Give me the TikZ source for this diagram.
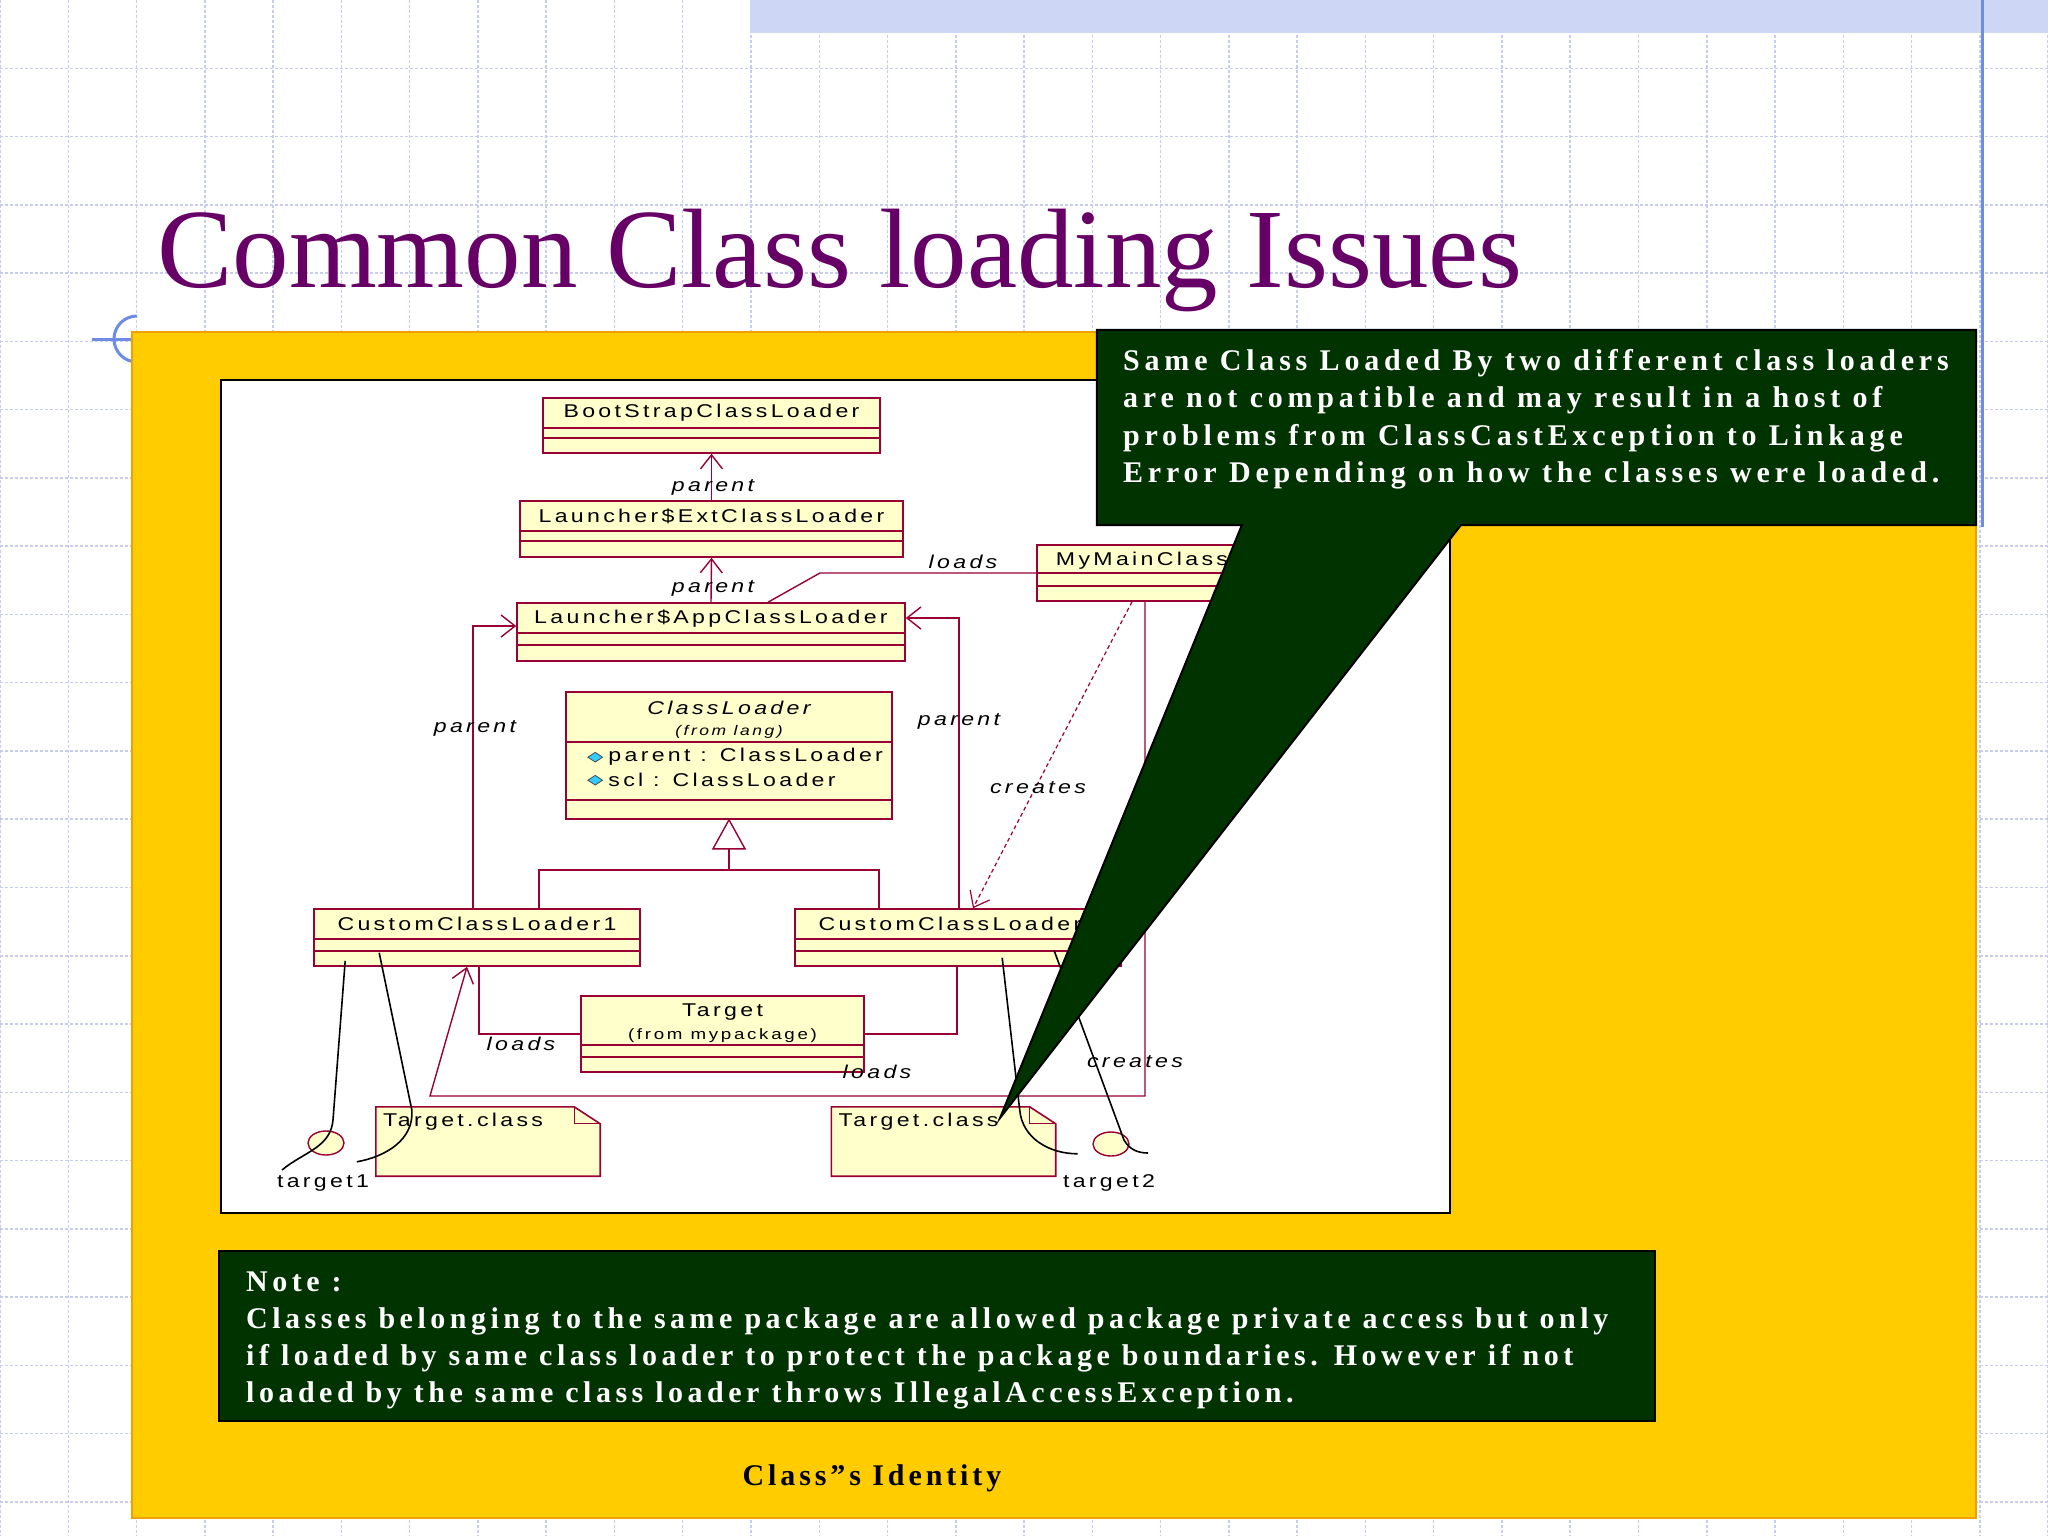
\documentclass[tikz,border=0pt]{standalone}
\usepackage{fontspec}
\setmainfont{Liberation Serif}
\newfontfamily\umlfont[FakeStretch=1.25,LetterSpace=18]{Liberation Sans}
\newfontfamily\slidefont[LetterSpace=13]{Liberation Serif}
\newfontfamily\calloutfont[LetterSpace=16]{Liberation Serif}
\newfontfamily\notefont[LetterSpace=15]{Liberation Serif}
\usepackage{tikz}
\usetikzlibrary{arrows.meta, calc, shapes.geometric}
\definecolor{titlepurple}{RGB}{102,0,102}
\definecolor{slideyellow}{RGB}{255,204,0}
\definecolor{slideedge}{RGB}{240,160,0}
\definecolor{notegreen}{RGB}{0,51,0}
\definecolor{gridblue}{RGB}{200,205,240}
\definecolor{bandblue}{RGB}{205,215,245}
\definecolor{markblue}{RGB}{110,140,230}
\definecolor{umlfill}{RGB}{255,255,204}
\definecolor{umlred}{RGB}{153,0,51}
\definecolor{iconcyan}{RGB}{51,204,255}
\tikzset{
  classbox/.style={rectangle, draw=umlred, fill=umlfill, line width=1.6pt, inner sep=0pt},
  compline/.style={draw=umlred, line width=1.6pt},
  classname/.style={font=\umlfont\fontsize{18.5}{20}\selectfont, inner sep=0pt},
  smallname/.style={font=\umlfont\fontsize{15}{16}\selectfont, inner sep=0pt},
  reltag/.style={font=\umlfont\itshape\fontsize{18.5}{20}\selectfont, inner sep=0pt},
  rel/.style={draw=umlred, line width=1.4pt},
  openarrow/.style={-{Straight Barb[length=14pt, width=22pt]}},
  objcircle/.style={ellipse, draw=umlred, fill=umlfill, line width=1.4pt,
    minimum width=36pt, minimum height=24pt, inner sep=0pt},
  attricon/.style={diamond, draw=black!70, fill=iconcyan, line width=0.8pt,
    minimum width=15pt, minimum height=10pt, inner sep=0pt},
  notespace/.style={rectangle, minimum width=224pt, minimum height=69pt, inner sep=0pt},
  notedraw/.style={draw=umlred, fill=umlfill, line width=1.6pt},
  anchorline/.style={draw=black, line width=1.6pt},
  slidebox/.style={fill=notegreen, draw=black, line width=2pt},
  slidetext/.style={text=white, inner sep=0pt, align=left},
  gridline/.style={draw=gridblue, line width=1.5pt, dash pattern=on 3pt off 2pt}
}

\begin{document}
\begin{tikzpicture}[x=1pt, y=-1pt]
  % page and grid
  \useasboundingbox (0,0) rectangle (2048,1536);
  \fill[white] (0,0) rectangle (2048,1536);
  \foreach \i in {0,...,30}
    \draw[gridline] (\i*68.27,0) -- (\i*68.27,1536);
  \foreach \j in {1,...,22}
    \draw[gridline] (0,\j*68.27) -- (2048,\j*68.27);
  \fill[bandblue] (750,0) rectangle (2048,33);
  \draw[markblue, line width=3pt] (1982,0) -- (1982,527);
  \draw[markblue, line width=3pt] (92,339) -- (137,339);
  \draw[markblue, line width=3pt] (137,316) arc[start angle=270, end angle=90, radius=23];

  % title
  \node[anchor=base west, inner sep=0pt, text=titlepurple,
    font=\fontsize{113}{120}\selectfont] (title) at (157,287) {Common Class loading Issues};

  % slide panel and diagram area
  \node[fill=slideyellow, draw=slideedge, line width=1.5pt, minimum width=1844pt,
    minimum height=1186pt, inner sep=0pt] (panel) at (1054,925) {};
  \node[fill=white, draw=black, line width=2.5pt, minimum width=1229pt,
    minimum height=833pt, inner sep=0pt] (diagram) at (835.5,796.5) {};

  % classes
  \node[classbox, minimum width=337pt, minimum height=55pt] (boot) at (711.5,425.5) {};
  \node[classbox, minimum width=383pt, minimum height=56pt] (ext) at (711.5,529) {};
  \node[classbox, minimum width=388pt, minimum height=58pt] (app) at (711,632) {};
  \node[classbox, minimum width=326pt, minimum height=127pt] (cl) at (729,755.5) {};
  \node[classbox, minimum width=326pt, minimum height=57pt] (ccl1) at (477,937.5) {};
  \node[classbox, minimum width=326pt, minimum height=57pt] (ccl2) at (958,937.5) {};
  \node[classbox, minimum width=210pt, minimum height=56pt] (main) at (1142,573) {};
  \node[classbox, minimum width=283pt, minimum height=76pt] (target) at (722.5,1034) {};
  \foreach \n/\a/\b in {boot/31/41, ext/31/41, app/31/43, cl/51/109, ccl1/31/43,
      ccl2/31/43, main/29/42, target/50/62} {
    \draw[compline] ([yshift=-\a pt]\n.north west) -- ([yshift=-\a pt]\n.north east);
    \draw[compline] ([yshift=-\b pt]\n.north west) -- ([yshift=-\b pt]\n.north east);
  }
  \node[classname] (bootname) at ([yshift=-16pt]boot.north) {BootStrapClassLoader};
  \node[classname] (extname) at ([yshift=-16pt]ext.north) {Launcher\$ExtClassLoader};
  \node[classname] (appname) at ([yshift=-16pt]app.north) {Launcher\$AppClassLoader};
  \node[reltag] (clname) at ([yshift=-17pt]cl.north) {ClassLoader};
  \node[smallname, font=\umlfont\itshape\fontsize{14}{16}\selectfont] (cllang)
    at ([yshift=-41pt]cl.north) {(from lang)};
  \node[attricon] (icon1) at ([xshift=30pt, yshift=-66pt]cl.north west) {};
  \node[classname, anchor=west] (attr1) at ([xshift=43pt, yshift=-66pt]cl.north west) {parent : ClassLoader};
  \node[attricon] (icon2) at ([xshift=30pt, yshift=-89pt]cl.north west) {};
  \node[classname, anchor=west] (attr2) at ([xshift=43pt, yshift=-89pt]cl.north west) {scl : ClassLoader};
  \node[classname] (ccl1name) at ([yshift=-15.5pt]ccl1.north) {CustomClassLoader1};
  \node[classname] (ccl2name) at ([yshift=-15.5pt]ccl2.north) {CustomClassLoader2};
  \node[classname] (mainname) at ([yshift=-16.5pt]main.north) {MyMainClass};
  \node[classname] (targetname) at ([yshift=-17pt]target.north) {Target};
  \node[smallname] (targetpkg) at ([yshift=-40pt]target.north) {(from mypackage)};

  % parent links
  \draw[rel, openarrow] (ext.north) -- (boot.south);
  \node[reltag] (lbl1) at (713,487) {parent};
  \draw[rel, openarrow] (app.north) -- (ext.south);
  \node[reltag] (lbl2) at (713,588) {parent};
  \coordinate (pl) at (473,626);
  \draw[rel, openarrow] (pl |- ccl1.north) |- (app.west |- pl);
  \node[reltag] (lbl3) at (475,728) {parent};
  \coordinate (pr) at (959,618);
  \draw[rel, openarrow] (pr |- ccl2.north) |- (app.east |- pr);
  \node[reltag] (lbl4) at (959,721) {parent};

  % loads and creates
  \coordinate (lbend) at (820,573);
  \draw[rel] (main.west) -- (lbend) -- ($(app.north)+(57,0)$);
  \node[reltag] (lbl5) at (963,562) {loads};
  \draw[rel, line width=1.2pt, dash pattern=on 4pt off 3pt, openarrow]
    ($(main.south)+(-10,0)$) -- ($(ccl2.north)+(15,0)$);
  \node[reltag] (lbl6) at (1038,788) {creates};
  \coordinate (cra) at (1145,1096);
  \coordinate (crb) at (430,1096);
  \draw[rel, openarrow] (cra |- main.south) -- (cra) -- (crb) -- ($(ccl1.south)+(-10,0)$);
  \node[reltag] (lbl7) at (1135,1062) {creates};
  \draw[rel] ($(ccl1.south)+(2,0)$) |- (target.west);
  \node[reltag] (lbl8) at (521,1044) {loads};
  \draw[rel] ($(ccl2.south)+(-1,0)$) |- (target.east);
  \node[reltag] (lbl9) at (877,1072) {loads};

  % inheritance
  \draw[rel, fill=white] (cl.south) -- ++(16,29) -- ++(-32,0) -- cycle;
  \coordinate (gj) at (729,870);
  \draw[rel] ($(cl.south)+(0,29)$) -- (gj);
  \draw[rel] ($(ccl1.north)+(62,0)$) |- (gj) -| ($(ccl2.north)+(-79,0)$);

  % class files and objects
  \node[notespace] (tc1) at (488,1141.5) {};
  \node[notespace] (tc2) at (943.5,1141.5) {};
  \foreach \n in {tc1, tc2} {
    \draw[notedraw] (\n.north west) -- ([xshift=-26pt]\n.north east)
      -- ([yshift=-17pt]\n.north east) -- (\n.south east) -- (\n.south west) -- cycle;
    \draw[compline, line width=1.2pt] ([xshift=-26pt]\n.north east)
      -- ([xshift=-26pt, yshift=-17pt]\n.north east) -- ([yshift=-17pt]\n.north east);
  }
  \node[classname, anchor=west] (tc1name) at ([xshift=7pt, yshift=-15pt]tc1.north west) {Target.class};
  \node[classname, anchor=west] (tc2name) at ([xshift=7pt, yshift=-15pt]tc2.north west) {Target.class};
  \node[objcircle] (t1) at (326,1143) {};
  \node[classname] (t1name) at (323,1183) {target1};
  \node[objcircle] (t2) at (1111,1144) {};
  \node[classname] (t2name) at (1109,1183) {target2};
  \draw[anchorline] ($(ccl1.south west)+(32,-6)$) -- ($(t1)+(7,-23)$)
    to[out=-95, in=40] ($(t1)+(-44,27)$);
  \draw[anchorline] ($(ccl1.south west)+(66,-14)$) -- ($(tc1.north west)+(36,3)$)
    to[out=-85, in=10] ($(tc1.north west)+(-19,55)$);
  \draw[anchorline] ($(ccl2.south west)+(208,-9)$) -- ($(tc2.north east)+(-36,3)$)
    to[out=-85, in=180] ($(tc2.north east)+(22,47)$);
  \draw[anchorline] ($(ccl2.south west)+(260,-16)$) -- ($(t2)+(13,-4)$)
    to[out=-60, in=180] ($(t2)+(37,9)$);

  % callout
  \node[minimum width=879pt, minimum height=195pt, inner sep=0pt] (callout) at (1536.5,427.5) {};
  \coordinate (tip) at (1000,1118);
  \draw[slidebox, line join=miter] (callout.north west) -- (callout.north east) -- (callout.south east)
    -- ([xshift=364pt]callout.south west) -- (tip) -- ([xshift=145pt]callout.south west)
    -- (callout.south west) -- cycle;
  % base of a multi-line node is its last line
  \node[slidetext, anchor=base west, font=\calloutfont\bfseries\fontsize{30}{37.5}\selectfont]
    (callouttext) at (1123,482.5)
    {Same Class Loaded By two different class loaders\\
     are not compatible and may result in a host of\\
     problems from ClassCastException to Linkage\\
     Error Depending on how the classes were loaded.};

  % note
  \node[slidebox, minimum width=1436pt, minimum height=170pt, inner sep=0pt] (notebox) at (937,1336) {};
  \node[slidetext, anchor=base west, font=\notefont\bfseries\fontsize{30}{36.7}\selectfont]
    (notetext) at (246,1402)
    {Note :\\
     Classes belonging to the same package are allowed package private access but only\\
     if loaded by same class loader to protect the package boundaries. However if not\\
     loaded by the same class loader throws IllegalAccessException.};
  \node[anchor=base, inner sep=0pt, font=\slidefont\bfseries\fontsize{30}{36}\selectfont]
    (ident) at (872,1485) {Class”s Identity};
\end{tikzpicture}
\end{document}
